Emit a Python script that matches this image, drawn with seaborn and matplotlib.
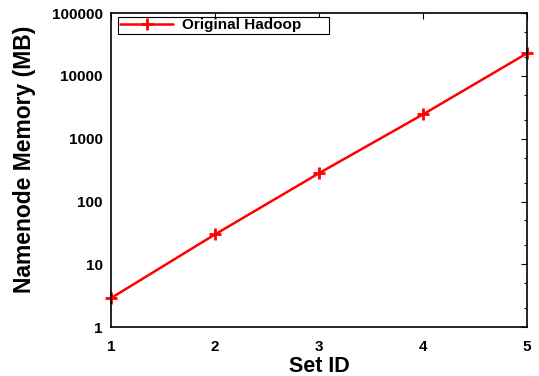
import numpy as np
import pandas as pd
import matplotlib
matplotlib.use("Agg")
import matplotlib.pyplot as plt
import seaborn as sns
from matplotlib.ticker import LogLocator, FixedLocator, NullFormatter

set_ids = [1, 2, 3, 4, 5]
memory_mb = [2.9, 30, 283, 2450, 23000]
series_name = "Original Hadoop"

sns.set_theme(style="white")
plt.rcParams['font.family'] = ['Liberation Sans', 'DejaVu Sans']
plt.rcParams['font.weight'] = 'bold'
plt.rcParams['text.color'] = 'black'
plt.rcParams['axes.labelcolor'] = 'black'

df = pd.DataFrame({'Set ID': set_ids, 'Memory': memory_mb, 'Series': series_name})

fig = plt.figure(figsize=(5.39, 3.76), dpi=100)
ax = fig.add_axes([0.206, 0.130, 0.772, 0.835])

sns.lineplot(data=df, x='Set ID', y='Memory', hue='Series', palette=['#ff0000'],
             marker='+', markersize=8.5, markeredgewidth=2, markeredgecolor='#ff0000',
             linewidth=1.8, ax=ax, clip_on=False)

ax.set_yscale('log')
ax.set_xlim(1, 5)
ax.set_ylim(1, 100000)
ax.xaxis.set_major_locator(FixedLocator(set_ids))
ax.yaxis.set_minor_locator(LogLocator(base=10, subs=[2, 5], numticks=10))
ax.yaxis.set_minor_formatter(NullFormatter())
ax.set_yticks([1, 10, 100, 1000, 10000, 100000])
ax.set_yticklabels(['1', '10', '100', '1000', '10000', '100000'])

ax.tick_params(which='both', direction='in', top=True, right=True, colors='black',
               labelsize=11, width=0.8)
ax.tick_params(axis='x', which='major', pad=9)
ax.tick_params(axis='y', which='major', pad=6)
ax.tick_params(which='major', length=4)
ax.tick_params(which='minor', length=2.5)
for lbl in ax.get_xticklabels() + ax.get_yticklabels():
    lbl.set_fontweight('bold')

for s in ax.spines.values():
    s.set_color('black')
    s.set_linewidth(1.2)

ax.set_xlabel('Set ID', fontsize=15.5, fontweight='bold', labelpad=2)
ax.set_ylabel('Namenode Memory (MB)', fontsize=16.5, fontweight='bold')
ax.yaxis.set_label_coords(-0.18, 0.535)

leg = ax.legend(loc='upper left', bbox_to_anchor=(0.01, 0.998), fancybox=False,
                framealpha=1, edgecolor='black', fontsize=11, handlelength=3.5,
                borderpad=0.1, borderaxespad=0.2, handletextpad=0.6)
leg.get_frame().set_linewidth(0.8)
for t in leg.get_texts():
    t.set_fontweight('bold')
    t.set_text(t.get_text() + '      ')

fig.savefig('out.png', dpi=100)
